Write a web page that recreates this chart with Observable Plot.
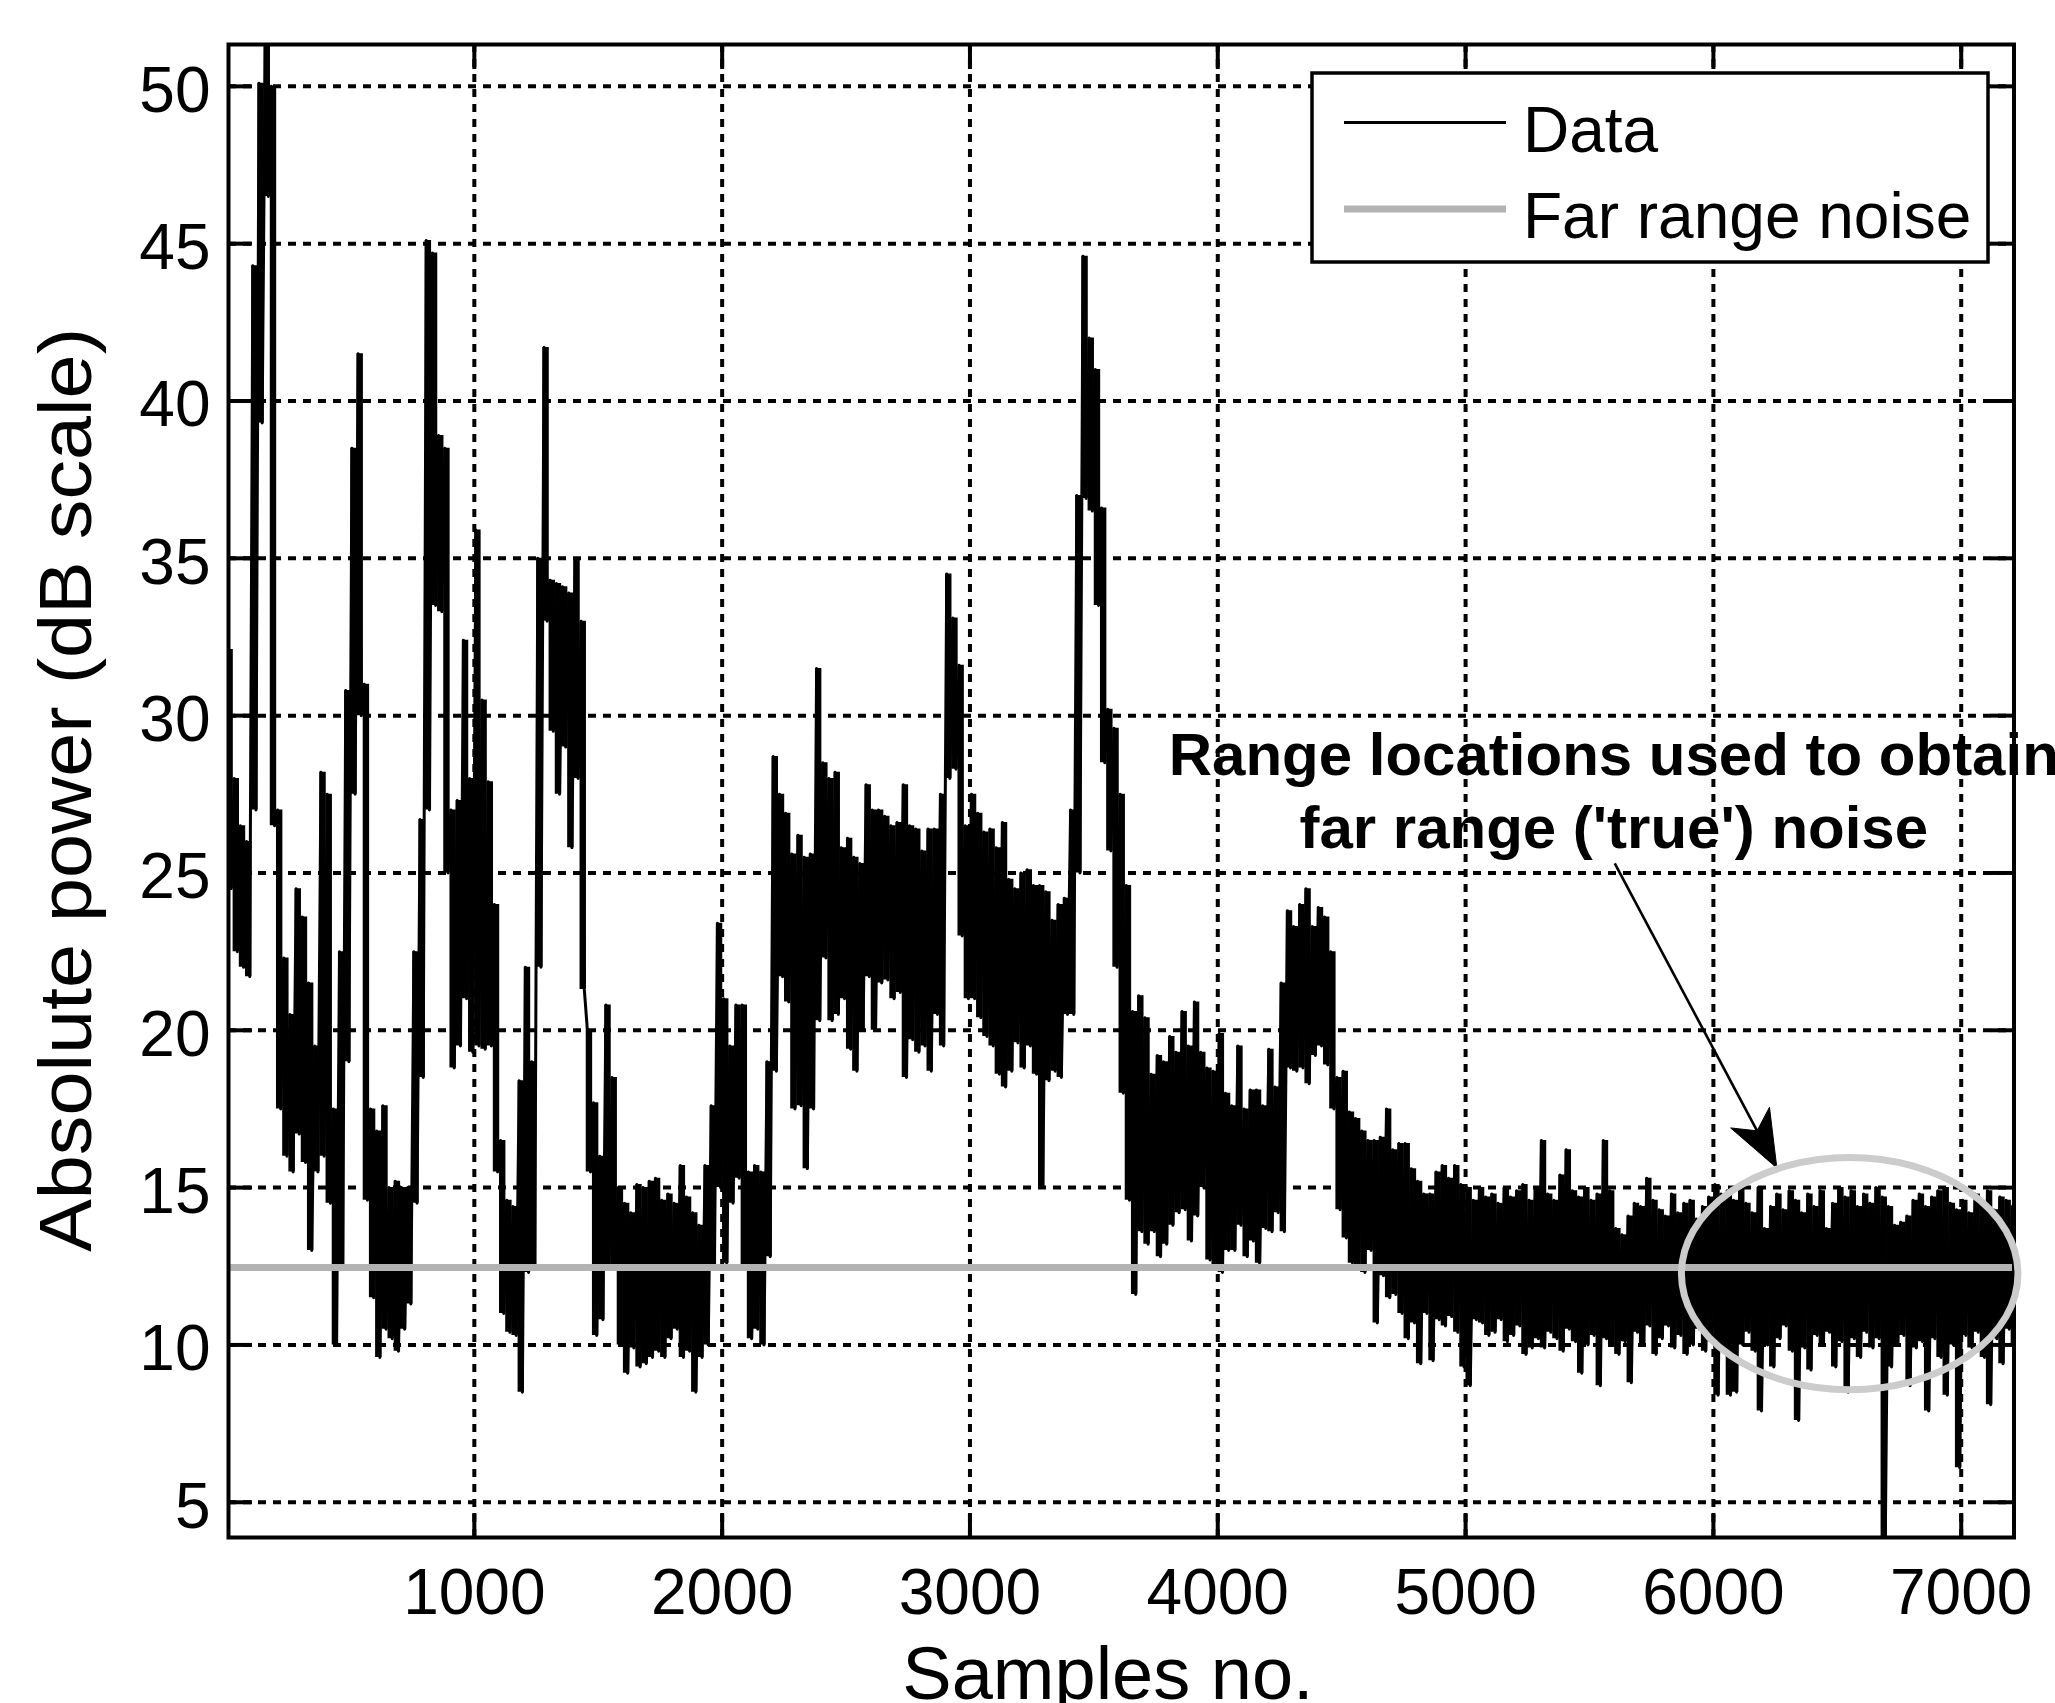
<!DOCTYPE html>
<html>
<head>
<meta charset="utf-8">
<script src="https://cdn.jsdelivr.net/npm/d3@7"></script>
<script src="https://cdn.jsdelivr.net/npm/@observablehq/plot@0.6"></script>
<style>
html, body { margin: 0; padding: 0; background: #fff; }
#chart { width: 2055px; height: 1703px; overflow: hidden; }
</style>
</head>
<body>
<div id="chart"></div>
<script>
// ---- data (max / min of each 25-sample bin) ----
const binSize = 25;
const binHigh = [
  32.1,28,26.5,26,44.3,50.1,51.3,50,27,22.3,
  20.5,24.5,23.6,21.5,19.5,28.2,27.5,17.5,22.5,30.8,
  38.5,41.5,31,17.5,16.8,17.6,15,15.2,15,15,
  22.5,26.7,45.1,44.7,38.9,38.5,27,27.3,32.4,28,
  35.9,30.5,27.9,24,16.5,14.6,14.4,18.4,22,19,
  35,41.7,34.3,34.2,34.1,33.9,35,33,20,17.7,
  16,20.8,18.5,15,14.5,14.2,15.1,15,15.2,15.3,
  14.6,14.8,14.5,15.7,14.7,14.2,13.8,15.7,17.6,23.4,
  21,19.5,20.8,20.8,15.5,15.7,15.5,19,28.7,27.5,
  26.9,25.6,26.2,25.5,25.6,31.5,28.5,28,28.2,25.8,
  26.1,25.5,25.3,27.8,27,27,26.8,26.5,26.6,27.8,
  26.5,26.4,25.7,26.4,26.4,27.5,34.5,33.1,31.6,26.5,
  27.5,26.9,26.3,26.4,25.8,26.6,24.8,24.5,25,25.1,
  24.6,24.6,24.4,23.5,24,24.2,27,37,44.6,42,
  41,36.6,30.2,29.6,27.5,24.6,20.6,21.1,20.4,18.6,
  19.2,19,19.8,19.3,20.6,19.5,20.9,19.3,18.8,18.7,
  19.9,18,17.6,19.5,17.5,18.1,18.1,17.6,19.4,18.2,
  21.5,23.8,23.3,24,24.5,23.3,23.9,23.6,22.5,18.5,
  18.7,17.4,17.2,16.8,16.5,16.5,16.6,17.5,16.2,16.4,
  16.4,15.6,15.2,14.8,14.8,15.5,15.7,15.3,15.7,15.1,
  15,14.6,15,14.7,14.8,14.5,15,14.7,14.9,15.1,
  14.6,15,16.5,14.8,14.6,15.4,16.2,14.9,14.7,15,
  14.6,14.8,16.5,14.9,13.7,13.5,14.1,14.5,14.4,15.3,
  14.6,14.3,14.1,14.8,14.2,14.5,14.6,14,14.4,14.7,
  15.1,14.8,14.9,14.6,15,14.5,14.2,15,13.7,14.4,
  14.8,14.3,14.9,14.6,14.2,14.8,14.4,14.9,13.7,14.5,
  15,14.7,14.9,14.4,14.8,14.5,15,14.7,14.4,13.8,
  13.9,14.1,14.6,14.8,14.4,14.7,14.9,15,14.5,14.3,
  14.6,14.2,14.8,14.5,14.9,14.3,14.7,14.6,14.4
];
const binLow = [
  24.5,22.5,22,21.7,27,39.3,46.5,26.5,17.5,16,
  15.5,16.7,15.8,13,15.5,16,14.5,10,12.5,19,
  27.5,30,14.6,11.5,9.6,10.5,10.2,9.8,10.5,11.3,
  14.5,18.5,27,33.5,33.3,25,18.8,19.5,21,19.3,
  19.5,19.4,19.5,15.5,11,10.4,10.3,8.5,12.3,12.4,
  22,33,29.5,27.5,29,25.8,28,21.3,15.5,10.3,
  10.8,12.5,12.5,10,9.1,9.9,9.3,9.4,9.6,9.8,
  9.6,10.2,10.5,9.6,9.8,8.5,9.6,10,12.5,15,
  12.6,14.5,15.3,12.5,10.2,10.5,10,12.8,18.7,21.7,
  20.9,17.5,17.6,15.6,17.5,20.3,22.3,20.3,20.5,21,
  19.4,18.7,20,21.7,20,21.5,21.6,21,21.2,18.5,
  19.7,19.3,19.5,18.7,20.5,19.5,28,28.3,23,21,
  21,20.4,19.8,19.5,18.6,18.2,18.7,19.6,18.8,19.5,
  18.6,15,18.4,18.7,18.5,20.5,20.5,25,36.9,36.5,
  33.5,28.5,25.7,22,18,14.6,11.6,13.6,13.2,13.6,
  12.8,13.2,13.8,14.2,14.3,13.3,14.1,15,12.7,12.5,
  12.3,13,13,13.8,12.8,13.3,12.6,13.7,13.6,14.2,
  13.6,18.8,18.7,18.8,18.3,19.2,19.5,18.9,17.5,14.3,
  13.4,12.6,12.5,12.3,13,10.7,12.2,11.5,11.6,11,
  10.2,10.7,9.4,11,9.5,10.8,10.6,10.9,10.4,9.3,
  8.7,10.8,10.7,10.3,10.4,10.8,10.1,10.3,10.6,9.7,
  9.9,10.2,9.9,10.4,10.2,9.8,10.5,10.1,9.1,10,
  10.3,8.7,10.2,10,9.7,10.1,8.8,10.4,10,10.6,
  9.7,10.2,10.6,9.9,10.3,9.7,10,10.5,9.8,10.1,
  8.4,9.8,8.4,8.5,10,10.4,9.8,7.9,10,9.3,
  10.2,10.6,9.8,7.6,9.9,9.2,10.3,10,10.4,9.3,
  10.1,8.5,10.2,9.6,10.4,9.9,10.2,3.88,9.3,10,
  10.3,8.7,9.9,10.1,7.9,10.2,9.6,8.4,10,6.1,
  10.3,9.9,10.4,9.6,8.1,10.2,9.4,10.5,10
];
const noiseLevel = 12.46;                 // far range noise (dB)
const xTicks = [1000, 2000, 3000, 4000, 5000, 6000, 7000];
const yTicks = [5, 10, 15, 20, 25, 30, 35, 40, 45, 50];
const xDomain = [8, 7213];
const yDomain = [3.88, 51.33];
const legendLabels = ["Data", "Far range noise"];
const annotationLines = ["Range locations used to obtain", "far range ('true') noise"];
const annotationAt = {x: 5600, y: [28.1, 25.78]};
const arrowFrom = {x: 5604, y: 25.29};
const arrowTo = {x: 6258, y: 15.61};
const noiseRegion = {cx: 6552, cy: 12.25, rx: 679, ry: 3.69};

// per-bin records and a zig-zag through the max / min of each bin
const bins = binHigh.map((h, i) => ({s: i * binSize + binSize / 2, hi: h, lo: binLow[i]}));
const pts = [];
bins.forEach(b => {
  pts.push({s: b.s - binSize / 4, v: b.hi});
  pts.push({s: b.s + binSize / 4, v: b.lo});
});

const FONT = "'Liberation Sans', Arial, Helvetica, sans-serif";
const grid = {stroke: "black", strokeOpacity: 1, strokeWidth: 4, strokeDasharray: "8,7"};
const fmt = d => `${d}`;

const plot = Plot.plot({
  width: 2055,
  height: 1703,
  marginLeft: 228,
  marginRight: 41.5,
  marginTop: 44,
  marginBottom: 166,
  style: {fontFamily: FONT, fontSize: "64px", color: "black", background: "white"},
  x: {domain: xDomain},
  y: {domain: yDomain},
  marks: [
    Plot.gridX({ticks: xTicks, ...grid}),
    Plot.gridY({ticks: yTicks, ...grid}),
    Plot.ruleX(bins, {x: "s", y1: "lo", y2: "hi", stroke: "black", strokeWidth: 6.4, clip: true}),
    Plot.line(pts, {x: "s", y: "v", stroke: "black", strokeWidth: 3, clip: true}),
    Plot.ruleY([noiseLevel], {stroke: "#b3b3b3", strokeWidth: 7}),
    Plot.frame({stroke: "black", strokeWidth: 4}),
    Plot.axisX({ticks: xTicks, anchor: "bottom", tickSize: 0, tickPadding: 31, label: null, tickFormat: fmt, fontSize: 64}),
    Plot.axisY({ticks: yTicks, anchor: "left", tickSize: 0, tickPadding: 18, label: null, tickFormat: fmt, fontSize: 64, dy: 5}),
    Plot.axisX({ticks: xTicks, anchor: "bottom", tickSize: -24, fill: "none", stroke: "black", strokeWidth: 4, label: null}),
    Plot.axisX({ticks: xTicks, anchor: "top", tickSize: -24, fill: "none", stroke: "black", strokeWidth: 4, label: null}),
    Plot.axisY({ticks: yTicks, anchor: "left", tickSize: -24, fill: "none", stroke: "black", strokeWidth: 4, label: null}),
    Plot.axisY({ticks: yTicks, anchor: "right", tickSize: -24, fill: "none", stroke: "black", strokeWidth: 4, label: null})
  ]
});
document.getElementById("chart").appendChild(plot);

// scales of the plot
const sx = plot.scale("x"), sy = plot.scale("y");
const X = sx.apply ? sx.apply : d3.scaleLinear(sx.domain, sx.range);
const Y = sy.apply ? sy.apply : d3.scaleLinear(sy.domain, sy.range);

const svg = d3.select(plot);

// axis labels
svg.append("text")
  .attr("transform", "translate(91,790) rotate(-90)")
  .attr("text-anchor", "middle")
  .attr("font-family", FONT).attr("font-size", 74).attr("fill", "black")
  .attr("textLength", 924).attr("lengthAdjust", "spacingAndGlyphs")
  .text("Absolute power (dB scale)");
svg.append("text")
  .attr("x", 1108).attr("y", 1699)
  .attr("text-anchor", "middle")
  .attr("font-family", FONT).attr("font-size", 74).attr("fill", "black")
  .text("Samples no.");

// annotation text
annotationLines.forEach((t, i) => {
  svg.append("text")
    .attr("x", X(annotationAt.x)).attr("y", Y(annotationAt.y[i]))
    .attr("text-anchor", "middle")
    .attr("font-family", FONT).attr("font-weight", "bold").attr("font-size", 60).attr("fill", "black")
    .text(t);
});

// arrow
const x0 = X(arrowFrom.x), y0 = Y(arrowFrom.y), x1 = X(arrowTo.x), y1 = Y(arrowTo.y);
const L = Math.hypot(x1 - x0, y1 - y0), ux = (x1 - x0) / L, uy = (y1 - y0) / L, nx = -uy, ny = ux;
const headLen = 57, headHalf = 22, notch = 42;
svg.append("line")
  .attr("x1", x0).attr("y1", y0)
  .attr("x2", x1 - ux * notch).attr("y2", y1 - uy * notch)
  .attr("stroke", "black").attr("stroke-width", 2.6);
svg.append("path")
  .attr("d", `M${x1},${y1}L${x1 - ux * headLen + nx * headHalf},${y1 - uy * headLen + ny * headHalf}` +
             `L${x1 - ux * notch},${y1 - uy * notch}` +
             `L${x1 - ux * headLen - nx * headHalf},${y1 - uy * headLen - ny * headHalf}Z`)
  .attr("fill", "black").attr("stroke", "black").attr("stroke-width", 1);

// ellipse around far-range samples
svg.append("ellipse")
  .attr("cx", X(noiseRegion.cx)).attr("cy", Y(noiseRegion.cy))
  .attr("rx", X(noiseRegion.cx + noiseRegion.rx) - X(noiseRegion.cx))
  .attr("ry", Y(noiseRegion.cy - noiseRegion.ry) - Y(noiseRegion.cy))
  .attr("fill", "none").attr("stroke", "#cccccc").attr("stroke-width", 7);

// legend
const lg = svg.append("g");
lg.append("rect").attr("x", 1312).attr("y", 73).attr("width", 676).attr("height", 189)
  .attr("fill", "white").attr("stroke", "black").attr("stroke-width", 3.5);
lg.append("line").attr("x1", 1344).attr("x2", 1506).attr("y1", 122.5).attr("y2", 122.5)
  .attr("stroke", "black").attr("stroke-width", 3);
lg.append("line").attr("x1", 1344).attr("x2", 1506).attr("y1", 209).attr("y2", 209)
  .attr("stroke", "#b3b3b3").attr("stroke-width", 7);
legendLabels.forEach((t, i) => {
  lg.append("text").attr("x", 1523).attr("y", i === 0 ? 152 : 238)
    .attr("text-anchor", "start")
    .attr("font-family", FONT).attr("font-size", 64).attr("fill", "black").text(t);
});
</script>
</body>
</html>
